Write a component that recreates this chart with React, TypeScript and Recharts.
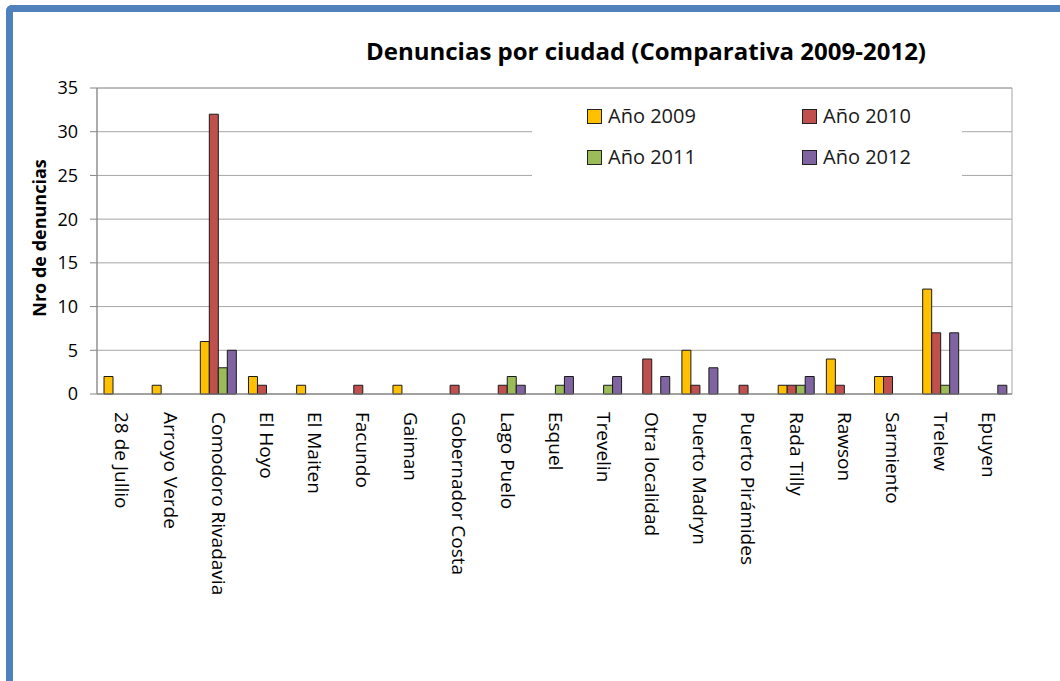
import { Bar, BarChart, CartesianGrid, Legend, ReferenceArea, XAxis, YAxis } from "recharts";

const cities = [
  "28 de Jullio",
  "Arroyo Verde",
  "Comodoro Rivadavia",
  "El Hoyo",
  "El Maiten",
  "Facundo",
  "Gaiman",
  "Gobernador Costa",
  "Lago Puelo",
  "Esquel",
  "Trevelin",
  "Otra localidad",
  "Puerto Madryn",
  "Puerto Pirámides",
  "Rada Tilly",
  "Rawson",
  "Sarmiento",
  "Trelew",
  "Epuyen",
];

const y2009 = [2, 1, 6, 2, 1, 0, 1, 0, 0, 0, 0, 0, 5, 0, 1, 4, 2, 12, 0];
const y2010 = [0, 0, 32, 1, 0, 1, 0, 1, 1, 0, 0, 4, 1, 1, 1, 1, 2, 7, 0];
const y2011 = [0, 0, 3, 0, 0, 0, 0, 0, 2, 1, 1, 0, 0, 0, 1, 0, 0, 1, 0];
const y2012 = [0, 0, 5, 0, 0, 0, 0, 0, 1, 2, 2, 2, 3, 0, 2, 0, 0, 7, 1];

const yTicks = [0, 5, 10, 15, 20, 25, 30, 35];

const series = [
  { key: "a2009", label: "Año 2009", color: "#FFC000" },
  { key: "a2010", label: "Año 2010", color: "#C0504D" },
  { key: "a2011", label: "Año 2011", color: "#9BBB59" },
  { key: "a2012", label: "Año 2012", color: "#8064A2" },
];

const data = cities.map((city, i) => ({
  city,
  a2009: y2009[i],
  a2010: y2010[i],
  a2011: y2011[i],
  a2012: y2012[i],
}));

const FONT = "'Open Sans', sans-serif";

function CityTick({ x, y, payload }: any) {
  const ty = y + 10;
  return (
    <text
      x={x}
      y={ty}
      dy="0.3em"
      transform={`rotate(90, ${x}, ${ty})`}
      textAnchor="start"
      fill="#000"
      fontSize={19}
      fontFamily={FONT}
    >
      {payload.value}
    </text>
  );
}

function LegendBox() {
  const spots = [
    { left: 55, top: 19 },
    { left: 270, top: 19 },
    { left: 55, top: 60 },
    { left: 270, top: 60 },
  ];
  return (
    <div style={{ position: "relative", width: 430, height: 87, background: "#fff" }}>
      {series.map((s, i) => (
        <div
          key={s.key}
          style={{
            position: "absolute",
            left: spots[i].left,
            top: spots[i].top - 7,
            display: "flex",
            alignItems: "center",
            fontFamily: FONT,
            fontSize: 20,
            color: "#1a1a1a",
            lineHeight: "28px",
          }}
        >
          <span
            style={{
              display: "inline-block",
              width: 13,
              height: 13,
              background: s.color,
              border: "1px solid #222",
              marginRight: 6,
            }}
          />
          {s.label}
        </div>
      ))}
    </div>
  );
}

export default function App() {
  return (
    <div
      style={{
        position: "fixed",
        left: 0,
        top: 0,
        width: 1060,
        height: 681,
        background: "#fff",
        overflow: "hidden",
      }}
    >
      <div
        style={{
          position: "absolute",
          left: 6,
          top: 5,
          width: 1100,
          height: 720,
          borderLeft: "7px solid #4F81BD",
          borderTop: "7px solid #4F81BD",
          borderTopLeftRadius: 6,
        }}
      />
      <div
        style={{
          position: "absolute",
          left: 346,
          width: 600,
          top: 35,
          textAlign: "center",
          fontFamily: FONT,
          fontWeight: 700,
          fontSize: 24,
          lineHeight: "32px",
          color: "#000",
        }}
      >
        Denuncias por ciudad (Comparativa 2009-2012)
      </div>
      <BarChart
        width={1060}
        height={681}
        data={data}
        margin={{ top: 88, right: 48, bottom: 87, left: 0 }}
        barCategoryGap={7}
        barGap={0}
      >
        <CartesianGrid vertical={false} stroke="#A6A6A6" />
        <ReferenceArea y1={0} y2={35} fill="none" stroke="#A6A6A6" />
        <XAxis
          dataKey="city"
          interval={0}
          height={200}
          tickLine={false}
          axisLine={{ stroke: "#868686" }}
          tick={<CityTick />}
        />
        <YAxis
          width={97}
          domain={[0, 35]}
          ticks={yTicks}
          tickSize={7}
          tickMargin={12}
          axisLine={{ stroke: "#868686" }}
          tickLine={{ stroke: "#868686" }}
          tick={{ fill: "#000", fontSize: 18, fontFamily: FONT }}
          label={{
            value: "Nro de denuncias",
            angle: -90,
            position: "center",
            dx: -9,
            dy: -3,
            style: { fontFamily: FONT, fontWeight: 700, fontSize: 18, fill: "#000" },
          }}
        />
        <Legend
          layout="vertical"
          verticalAlign="middle"
          align="center"
          content={<LegendBox />}
          wrapperStyle={{ position: "absolute", left: 532, top: 90, width: 430, height: 87 }}
        />
        {series.map((s) => (
          <Bar
            key={s.key}
            dataKey={s.key}
            name={s.label}
            fill={s.color}
            stroke="#1a1a1a"
            strokeWidth={1}
            isAnimationActive={false}
          />
        ))}
      </BarChart>
    </div>
  );
}
